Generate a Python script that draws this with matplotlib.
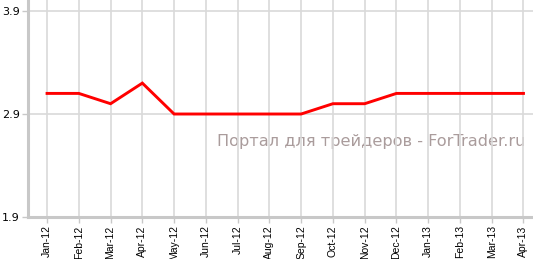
import matplotlib.pyplot as plt

months = ['Jan-12', 'Feb-12', 'Mar-12', 'Apr-12', 'May-12', 'Jun-12', 'Jul-12',
          'Aug-12', 'Sep-12', 'Oct-12', 'Nov-12', 'Dec-12', 'Jan-13', 'Feb-13',
          'Mar-13', 'Apr-13']
rate = [3.1, 3.1, 3.0, 3.2, 2.9, 2.9, 2.9, 2.9, 2.9, 3.0, 3.0, 3.1, 3.1, 3.1, 3.1, 3.1]
y_ticks = [1.9, 2.9, 3.9]

W, H = 533, 259
fig = plt.figure(figsize=(W / 100, H / 100), dpi=100)
ax = fig.add_axes([28 / W, (H - 217) / H, 505 / W, 217 / H])

x = list(range(len(months)))
ax.plot(x, rate, color='#ff0000', lw=2.1, zorder=3, solid_joinstyle='miter')

ax.set_xlim(-0.6, len(months) - 0.7)
ax.set_ylim(1.9, 4.007)
ax.set_xticks(x)
ax.set_xticklabels(months, rotation=90, fontsize=7.5, family='Liberation Sans')
ax.set_yticks(y_ticks)
ax.set_yticklabels([f'{v:.1f}' for v in y_ticks], fontsize=8, family='DejaVu Sans')

ax.grid(True, color='#d9d9d9', lw=1.2, zorder=2)
for s in ['top', 'right']:
    ax.spines[s].set_visible(False)
for s in ['left', 'bottom']:
    ax.spines[s].set_color('#c8c8c8')
    ax.spines[s].set_linewidth(2.2)
ax.tick_params(axis='both', color='#c8c8c8', length=4, width=1, pad=2)

# watermark sits under the grid
ax.text(0.985, 0.346, 'Портал для трейдеров - ForTrader.ru', transform=ax.transAxes,
        ha='right', va='center', fontsize=11.6, color='#aa9c9c', family='DejaVu Sans',
        zorder=1)

fig.savefig('out.png', dpi=100)
